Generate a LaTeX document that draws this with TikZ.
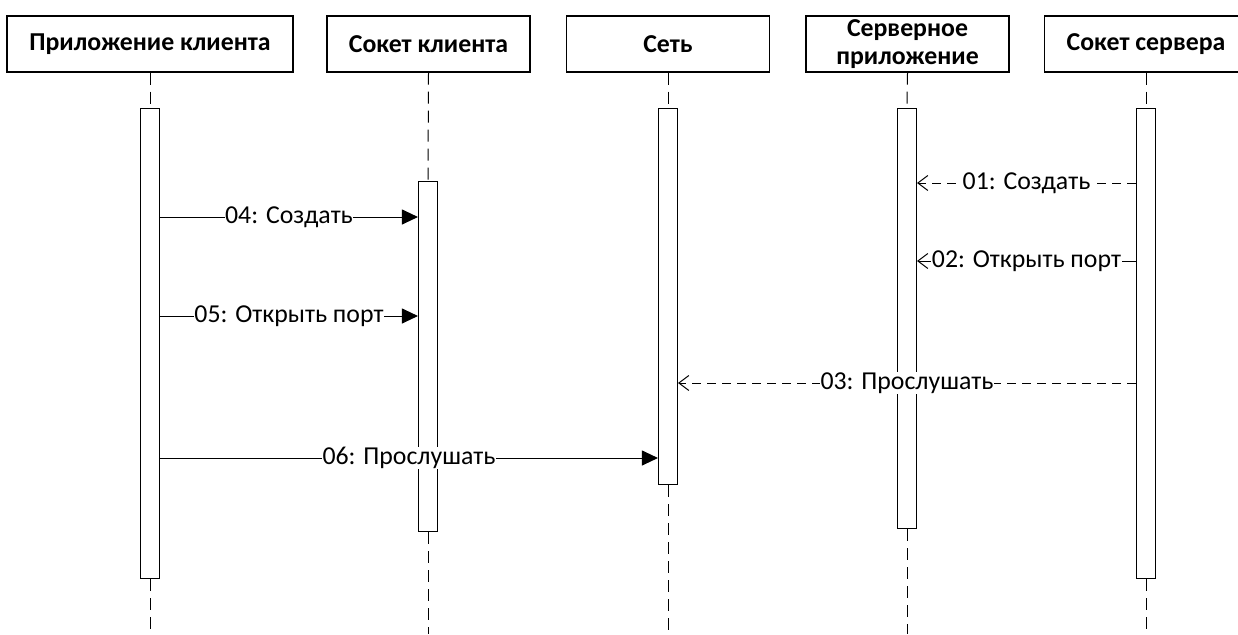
\documentclass[tikz,border=0pt]{standalone}
\usepackage{fontspec}
\setmainfont{Carlito}
\usetikzlibrary{arrows.meta}
\begin{document}
\begin{tikzpicture}[x=1pt,y=-1pt,
  head/.style={draw, line width=1.4pt, fill=white, minimum width=203pt, minimum height=56pt,
    inner sep=0pt, align=center, font=\fontsize{25.8}{28.5}\selectfont\bfseries},
  act/.style={draw, line width=1.1pt, fill=white, minimum width=19pt, inner sep=0pt},
  life/.style={line width=1pt, dash pattern=on 12pt off 7pt},
  call/.style={line width=1pt, -{Triangle[length=16pt,width=15pt]}},
  ret/.style={line width=1pt, -{Straight Barb[length=10pt,width=15pt,line width=1pt]}},
  retdash/.style={ret, dash pattern=on 9pt off 6pt},
  lbl/.style={fill=white, inner sep=0.5pt, font=\fontsize{25.8}{27}\selectfont}
]
\useasboundingbox (0,0) rectangle (1238,634);

% participants
\node[head, minimum width=286pt] (h1) at (150,44) {Приложение клиента};
\node[head] (h2) at (428.5,44) {Сокет клиента};
\node[head] (h3) at (668,44) {Сеть};
\node[head] (h4) at (907.5,44) {Серверное\\приложение};
\node[head] (h5) at (1146,44) {Сокет сервера};

% activation bars
\node[act, minimum height=470pt, anchor=north] (a1) at (150,108) {};
\node[act, minimum height=350pt, anchor=north] (a2) at (428,181) {};
\node[act, minimum height=376pt, anchor=north] (a3) at (668,108) {};
\node[act, minimum height=420pt, anchor=north] (a4) at (907,108) {};
\node[act, minimum height=470pt, anchor=north] (a5) at (1146,108) {};

% lifeline ends
\coordinate (e1) at (150,634);
\coordinate (e2) at (428,634);
\coordinate (e3) at (668,634);
\coordinate (e4) at (907,634);
\coordinate (e5) at (1146,634);

% lifelines
\foreach \i in {1,...,5}{
  \draw[life] (h\i.south) -- (a\i.north);
  \draw[life] (a\i.south) -- (e\i);
}

% messages
\draw[retdash] (a5.west |- 0,183) -- (a4.east |- 0,183)
  node[lbl, midway] {01: Создать};
\draw[ret] (a5.west |- 0,261) -- (a4.east |- 0,261)
  node[lbl, midway] {02: Открыть порт};
\draw[retdash] (a5.west |- 0,383) -- (a3.east |- 0,383)
  node[lbl, midway] {03: Прослушать};
\draw[call] (a1.east |- 0,217) -- (a2.west |- 0,217)
  node[lbl, midway] {04: Создать};
\draw[call] (a1.east |- 0,316) -- (a2.west |- 0,316)
  node[lbl, midway] {05: Открыть порт};
\draw[call] (a1.east |- 0,458) -- (a3.west |- 0,458)
  node[lbl, midway] {06: Прослушать};
\end{tikzpicture}
\end{document}
